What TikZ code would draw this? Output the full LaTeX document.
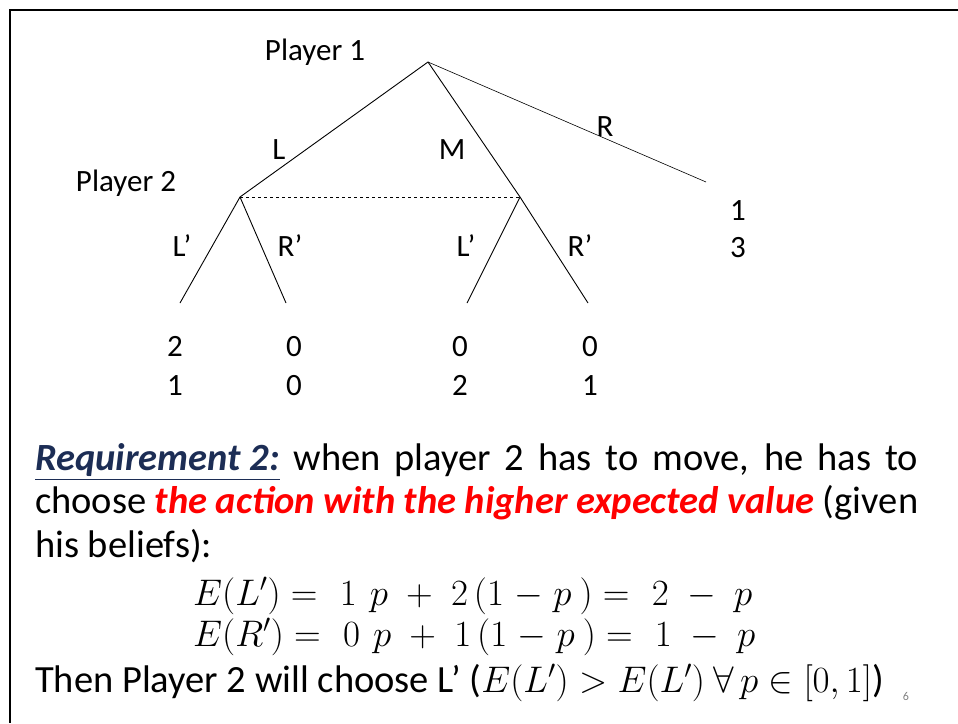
\documentclass[tikz,border=0pt]{standalone}
\usepackage{fix-cm}
\usepackage{fontspec}
\setmainfont{Carlito}
\usepackage{amsmath}
\definecolor{reqblue}{RGB}{28,45,85}
\definecolor{keyred}{RGB}{255,0,0}
\newcommand{\eqsize}{\fontsize{37}{43.5}\selectfont}
\tikzset{
  branch/.style={line width=0.9pt},
  lbl/.style={font=\fontsize{31}{36}\selectfont, inner sep=0pt},
  pay/.style={font=\fontsize{31}{36}\selectfont, inner sep=0pt, anchor=base},
  body/.style={font=\fontsize{38.5}{43.5}\selectfont, inner sep=0pt}
}

\begin{document}
\begin{tikzpicture}[x=1pt,y=-1pt]
\useasboundingbox (0,0) rectangle (958,723);
% frame
\draw[line width=2.5pt] (958,10) -- (10,10) -- (10,723);
% decision points and leaves
\coordinate (root) at (428,62);
\coordinate (p2l) at (240,197);
\coordinate (p2r) at (520,197);
\coordinate (endR) at (706,182);
\coordinate (llL) at (180,303);
\coordinate (llR) at (286,303);
\coordinate (rlL) at (467,303);
\coordinate (rlR) at (588,303);
\draw[branch] (root) -- (p2l);
\draw[branch] (root) -- (p2r);
\draw[line width=0.6pt] (root) -- (endR);
\draw[branch] (p2l) -- (llL);
\draw[branch] (p2l) -- (llR);
\draw[branch] (p2r) -- (rlL);
\draw[branch] (p2r) -- (rlR);
\draw[dashed, line width=0.8pt] (p2l) -- (p2r);
% players and moves
\node[lbl] (pl1) at (315,52) {Player 1};
\node[lbl] (pl2) at (126,183) {Player 2};
\node[lbl] (mvL) at (279,150) {L};
\node[lbl] (mvM) at (452,150) {M};
\node[lbl] (mvR) at (605,127) {R};
\node[lbl] (mvLa) at (182,246) {L’};
\node[lbl] (mvRa) at (290,246) {R’};
\node[lbl] (mvLb) at (466,246) {L’};
\node[lbl] (mvRb) at (580,246) {R’};
% payoffs
\node[pay] (payRa) at (738,220) {1};
\node[pay] (payRb) at (738,257) {3};
\node[pay] (pay1a) at (175,356) {2};
\node[pay] (pay1b) at (175,395) {1};
\node[pay] (pay2a) at (294,356) {0};
\node[pay] (pay2b) at (294,395) {0};
\node[pay] (pay3a) at (460,356) {0};
\node[pay] (pay3b) at (460,395) {2};
\node[pay] (pay4a) at (590,356) {0};
\node[pay] (pay4b) at (590,395) {1};
% text
\node[body, anchor=north west, text width=883pt, align=justify] (req) at (35,443)
  {\textcolor{reqblue}{\underline{\textbf{\textit{Requirement 2:}}}} when player 2 has to move, he has to\linebreak
   choose \textcolor{keyred}{\textbf{\textit{the action with the higher expected value}}} (given\linebreak
   his beliefs):};
\node[body, anchor=base west] (eqA) at (193,605)
  {\eqsize$E(L') =\hspace{12pt}1\hspace{13pt}p\hspace{10pt}+\hspace{10pt}2\hspace{6pt}(1\hspace{2pt}-\hspace{2pt}p\hspace{8pt}) =\hspace{12pt}2\hspace{10pt}-\hspace{10pt}p$};
\node[body, anchor=base west] (eqB) at (193,646)
  {\eqsize$E(R') =\hspace{12pt}0\hspace{13pt}p\hspace{10pt}+\hspace{10pt}1\hspace{6pt}(1\hspace{2pt}-\hspace{2pt}p\hspace{8pt}) =\hspace{12pt}1\hspace{10pt}-\hspace{10pt}p$};
\node[body, anchor=base west] (concl) at (35,692)
  {Then Player 2 will choose L’ ({\eqsize$E(L') > E(L')\ \forall\,p \in [0,1]$})};
\node[font=\fontsize{12}{14}\selectfont, text=gray, anchor=base, inner sep=0pt] (pgno) at (906,700) {6};
\end{tikzpicture}
\end{document}
